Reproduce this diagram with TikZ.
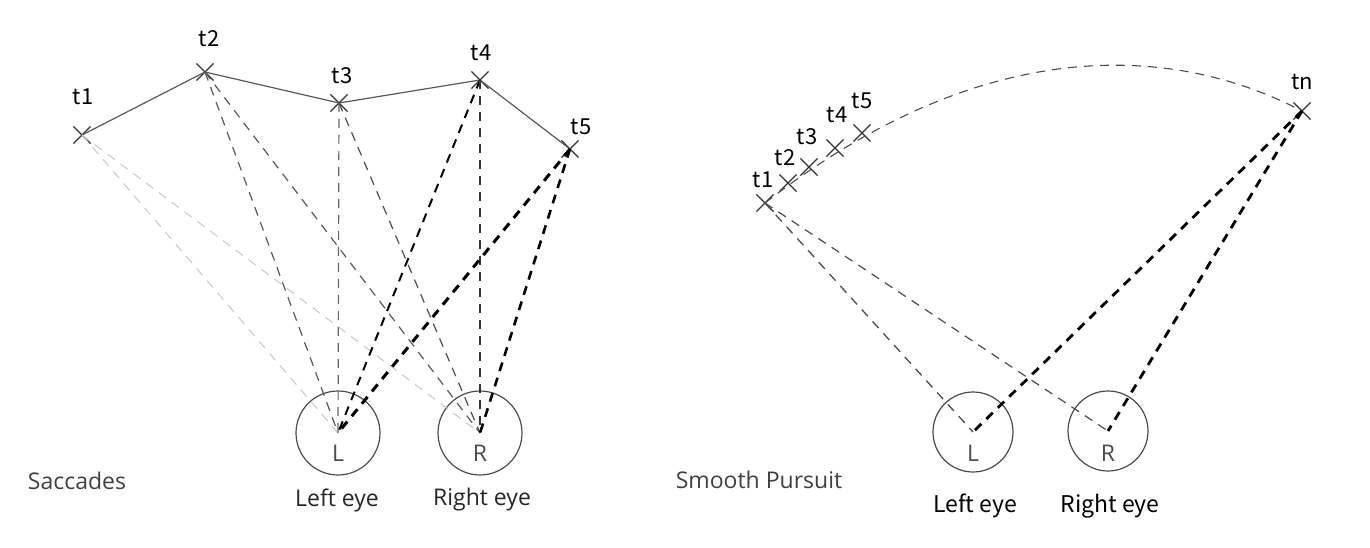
\documentclass[tikz,border=0pt]{standalone}
\usepackage{fontspec}
\setmainfont{Open Sans}
\newfontfamily\cjk{Noto Sans CJK SC}
\usetikzlibrary{shapes.misc}

\def\xsize{1370}
\def\ysize{548}
\def\crosssize{16}

\tikzset{
 tpoint/.style={cross out,draw=black!80,line width=1.1pt,minimum size=\crosssize pt,inner sep=0pt},
 tlab/.style={font=\cjk\fontsize{22}{22}\selectfont,text=black},
 eye/.style={circle,draw=black!70,line width=1.2pt,minimum size=#1pt,inner sep=0pt},
 eye/.default=84,
 eyelab/.style={font=\fontsize{23}{23}\selectfont,text=black!70},
 namelab/.style={font=\fontsize{23}{23}\selectfont,text=black!85},
 cjklab/.style={font=\cjk\fontsize{23}{23}\selectfont,text=black},
 title/.style={font=\fontsize{23}{23}\selectfont,text=black!75},
 sdash/.style={dash pattern=on 9pt off 7pt},
}

\begin{document}
\begin{tikzpicture}[x=1pt,y=-1pt]
 \useasboundingbox (0,0) rectangle (\xsize,\ysize);
 % Saccades: targets
 \foreach \n/\x/\y in {1/82/135,2/205/72,3/339/103,4/480/80,5/570/149}
  \node[tpoint] (s\n) at (\x,\y) {};
 \foreach \n/\x/\y in {1/83/97,2/209/39,3/342/76,4/481/53,5/581/127}
  \node[tlab] (ls\n) at (\x,\y) {t\n};
 % Saccades: eyes
 \node[eye] (sL) at (338,433) {};
 \node[eye] (sR) at (480,433) {};
 \node[eyelab] (sLt) at (338,453) {L};
 \node[eyelab] (sRt) at (480,453) {R};
 \node[namelab] (sLn) at (337,500) {Left eye};
 \node[namelab] (sRn) at (482,500) {Right eye};
 \node[title] (sac) at (77,481) {Saccades};
 % Gaze path
 \draw[black!65,line width=1.2pt] (s1.center) -- (s2.center) -- (s3.center)
  -- (s4.center) -- (s5.center);
 % Lines of sight
 \foreach \n/\cl/\wl/\cr/\wr in {1/black!22/1.0/black!22/1.0,
   2/black!65/1.2/black!65/1.2, 3/black!60/1.2/black!70/1.2,
   4/black/2.0/black!80/1.3, 5/black/3.0/black/2.6}{
  \draw[sdash,draw=\cl,line width=\wl pt] (s\n.center) -- (sL.center);
  \draw[sdash,draw=\cr,line width=\wr pt] (s\n.center) -- (sR.center);
 }

 % Smooth pursuit: targets
 \foreach \n/\x/\y in {1/765/203,2/788/183,3/809/167,4/835/148,5/862/133,n/1302/111}
  \node[tpoint] (p\n) at (\x,\y) {};
 \foreach \n/\x/\y in {1/763/180,2/785/158,3/807/137,4/837/115,5/862/101,n/1302/82}
  \node[tlab] (lp\n) at (\x,\y) {t\n};
 % Smooth pursuit: eyes
 \node[eye=80] (pL) at (973,432) {};
 \node[eye=80] (pR) at (1108,431) {};
 \node[eyelab] (pLt) at (973,453) {L};
 \node[eyelab] (pRt) at (1108,453) {R};
 \node[cjklab] (pLn) at (975,506) {Left eye};
 \node[cjklab] (pRn) at (1110,506) {Right eye};
 \node[title] (pur) at (759,480) {Smooth Pursuit};
 % Gaze path
 \draw[sdash,black!70,line width=1.1pt] (p1.center) .. controls (990,28) and (1180,47) .. (pn.center);
 % Lines of sight
 \draw[sdash,black!70,line width=1.3pt] (p1.center) -- (pL.center);
 \draw[sdash,black!70,line width=1.2pt] (p1.center) -- (pR.center);
 \draw[sdash,black,line width=2.8pt] (pn.center) -- (pL.center);
 \draw[sdash,black,line width=2.8pt] (pn.center) -- (pR.center);
\end{tikzpicture}
\end{document}
